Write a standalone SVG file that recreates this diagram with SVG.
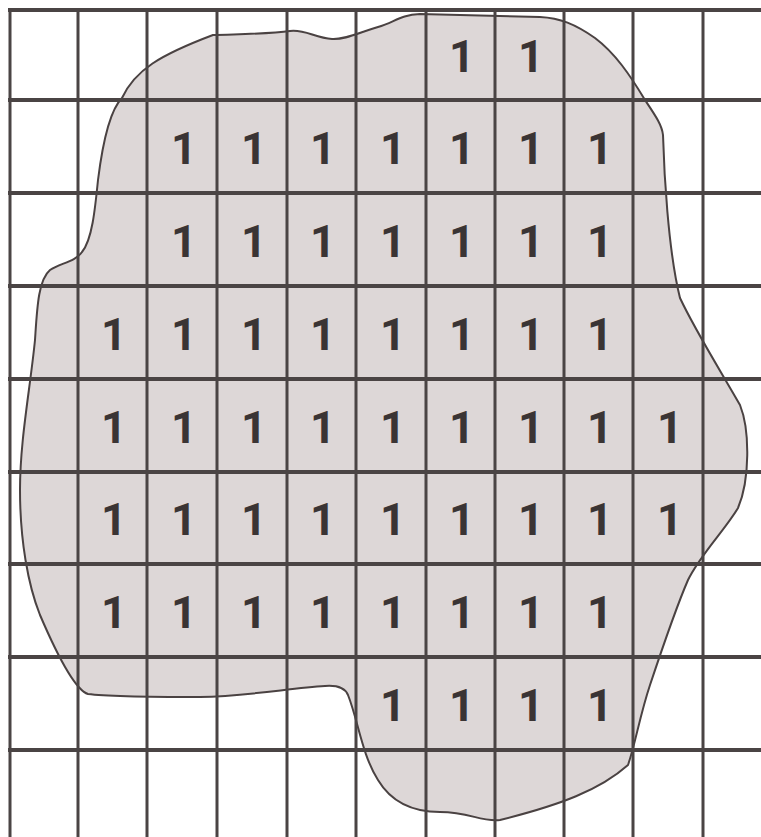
<svg xmlns="http://www.w3.org/2000/svg" width="761" height="837" viewBox="0 0 761 837">
  <style>
    .grid line { stroke: #4a4444; stroke-width: 3; }
    .grid line.h { stroke-width: 4; }
    .blob { fill: #ddd7d7; stroke: #4a4242; stroke-width: 2; stroke-linejoin: round; }
    .one { font-family: Roboto, "Liberation Sans", Arial, sans-serif; font-size: 45px; font-weight: bold; fill: #3a3434; text-anchor: middle; }
  </style>
  <rect x="0" y="0" width="761" height="837" fill="#ffffff"/>
  <g id="region">
    <path class="blob" d="M 213 35
      C 240 34, 270 34, 290 31
      C 305 29, 315 38, 332 39
      C 345 40, 360 32, 378 27
      C 395 22, 400 15, 420 14
      L 540 17
      C 560 18, 575 24, 595 38
      C 615 53, 630 75, 645 100
      C 655 115, 662 125, 663 135
      C 664 170, 668 250, 680 298
      C 695 330, 720 370, 740 405
      C 750 430, 750 480, 738 508
      C 725 530, 700 555, 688 580
      C 675 610, 665 640, 650 685
      C 640 715, 635 745, 628 765
      C 600 790, 560 805, 500 820
      C 480 822, 470 812, 440 812
      C 410 812, 390 800, 378 780
      C 362 755, 358 720, 348 695
      C 345 688, 338 685, 325 686
      C 290 688, 250 696, 200 697
      C 150 697, 110 697, 88 694
      C 75 690, 55 650, 40 615
      C 28 585, 20 540, 20 490
      C 20 440, 30 390, 35 340
      C 37 310, 38 280, 50 270
      C 60 263, 75 262, 82 252
      C 92 240, 95 210, 98 180
      C 103 140, 110 110, 122 98
      C 135 70, 160 55, 213 35 Z"/>
  </g>
  <g id="grid" class="grid">
    <line class="h" x1="8" y1="10" x2="761" y2="10"/>
    <line class="h" x1="8" y1="100" x2="761" y2="100"/>
    <line class="h" x1="8" y1="193" x2="761" y2="193"/>
    <line class="h" x1="8" y1="286" x2="761" y2="286"/>
    <line class="h" x1="8" y1="379" x2="761" y2="379"/>
    <line class="h" x1="8" y1="472" x2="761" y2="472"/>
    <line class="h" x1="8" y1="564" x2="761" y2="564"/>
    <line class="h" x1="8" y1="657" x2="761" y2="657"/>
    <line class="h" x1="8" y1="750" x2="761" y2="750"/>
    <line x1="10" y1="8" x2="10" y2="837"/>
    <line x1="78" y1="8" x2="78" y2="837"/>
    <line x1="147" y1="8" x2="147" y2="837"/>
    <line x1="217" y1="8" x2="217" y2="837"/>
    <line x1="287" y1="8" x2="287" y2="837"/>
    <line x1="356" y1="8" x2="356" y2="837"/>
    <line x1="426" y1="8" x2="426" y2="837"/>
    <line x1="495" y1="8" x2="495" y2="837"/>
    <line x1="564" y1="8" x2="564" y2="837"/>
    <line x1="633" y1="8" x2="633" y2="837"/>
    <line x1="703" y1="8" x2="703" y2="837"/>
  </g>
  <g id="labels" class="one">
    <text x="462" y="72">1</text><text x="531" y="72">1</text>
    <text x="184" y="164">1</text><text x="254" y="164">1</text><text x="323" y="164">1</text><text x="393" y="164">1</text><text x="462" y="164">1</text><text x="531" y="164">1</text><text x="600" y="164">1</text>
    <text x="184" y="257">1</text><text x="254" y="257">1</text><text x="323" y="257">1</text><text x="393" y="257">1</text><text x="462" y="257">1</text><text x="531" y="257">1</text><text x="600" y="257">1</text>
    <text x="114" y="350">1</text><text x="184" y="350">1</text><text x="254" y="350">1</text><text x="323" y="350">1</text><text x="393" y="350">1</text><text x="462" y="350">1</text><text x="531" y="350">1</text><text x="600" y="350">1</text>
    <text x="114" y="443">1</text><text x="184" y="443">1</text><text x="254" y="443">1</text><text x="323" y="443">1</text><text x="393" y="443">1</text><text x="462" y="443">1</text><text x="531" y="443">1</text><text x="600" y="443">1</text><text x="670" y="443">1</text>
    <text x="114" y="535">1</text><text x="184" y="535">1</text><text x="254" y="535">1</text><text x="323" y="535">1</text><text x="393" y="535">1</text><text x="462" y="535">1</text><text x="531" y="535">1</text><text x="600" y="535">1</text><text x="670" y="535">1</text>
    <text x="114" y="628">1</text><text x="184" y="628">1</text><text x="254" y="628">1</text><text x="323" y="628">1</text><text x="393" y="628">1</text><text x="462" y="628">1</text><text x="531" y="628">1</text><text x="600" y="628">1</text>
    <text x="393" y="721">1</text><text x="462" y="721">1</text><text x="531" y="721">1</text><text x="600" y="721">1</text>
  </g>
</svg>
